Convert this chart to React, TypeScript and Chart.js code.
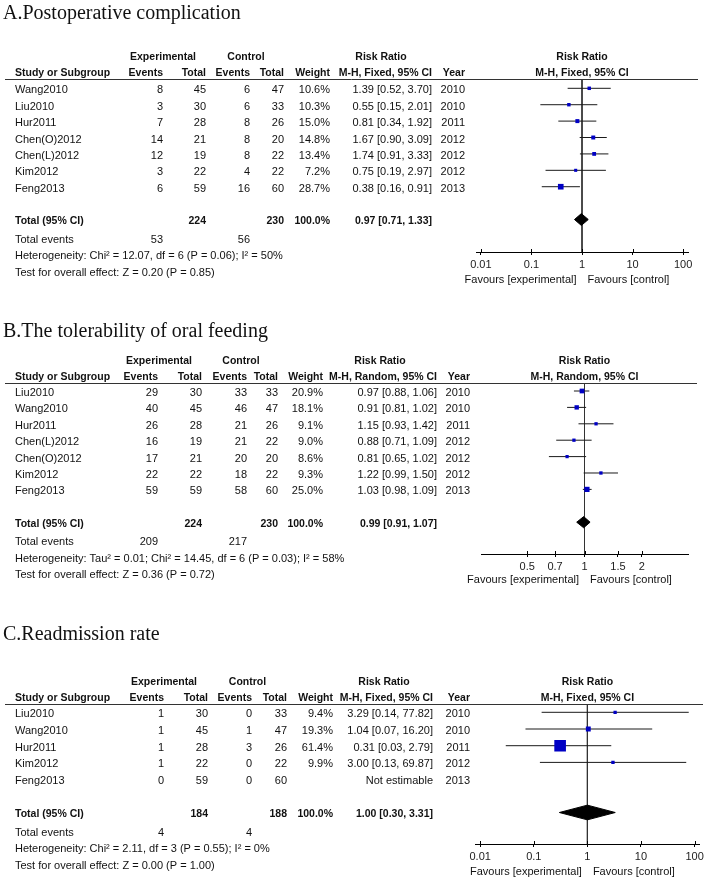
import React, { useEffect, useRef } from 'react';
import { Chart, registerables } from 'chart.js';

Chart.register(...registerables);

const SANS = '"Liberation Sans", Arial, sans-serif';
const SERIF = '"Liberation Serif", "Times New Roman", serif';
const BLUE = '#0000c4';
const INK = '#111111';

// ---------- Panel A : Postoperative complication ----------
const aTitle = 'A.Postoperative complication';
const aMethod = 'M-H, Fixed, 95% CI';
const aStudies = ['Wang2010', 'Liu2010', 'Hur2011', 'Chen(O)2012', 'Chen(L)2012', 'Kim2012', 'Feng2013'];
const aExpEvents = [8, 3, 7, 14, 12, 3, 6];
const aExpTotal = [45, 30, 28, 21, 19, 22, 59];
const aCtlEvents = [6, 6, 8, 8, 8, 4, 16];
const aCtlTotal = [47, 33, 26, 20, 22, 22, 60];
const aWeight = [10.6, 10.3, 15.0, 14.8, 13.4, 7.2, 28.7];
const aRR = [1.39, 0.55, 0.81, 1.67, 1.74, 0.75, 0.38];
const aLow = [0.52, 0.15, 0.34, 0.9, 0.91, 0.19, 0.16];
const aHigh = [3.7, 2.01, 1.92, 3.09, 3.33, 2.97, 0.91];
const aYear = [2010, 2010, 2011, 2012, 2012, 2012, 2013];
const aPooled = [0.97, 0.71, 1.33];
const aTotals = [224, 230];
const aTotalEvents = [53, 56];
const aHetero = 'Heterogeneity: Chi\u00B2 = 12.07, df = 6 (P = 0.06); I\u00B2 = 50%';
const aOverall = 'Test for overall effect: Z = 0.20 (P = 0.85)';
const aTicks = [0.01, 0.1, 1, 10, 100];
const aTickLabels = ['0.01', '0.1', '1', '10', '100'];

// ---------- Panel B : Tolerability of oral feeding ----------
const bTitle = 'B.The tolerability of oral feeding';
const bMethod = 'M-H, Random, 95% CI';
const bStudies = ['Liu2010', 'Wang2010', 'Hur2011', 'Chen(L)2012', 'Chen(O)2012', 'Kim2012', 'Feng2013'];
const bExpEvents = [29, 40, 26, 16, 17, 22, 59];
const bExpTotal = [30, 45, 28, 19, 21, 22, 59];
const bCtlEvents = [33, 46, 21, 21, 20, 18, 58];
const bCtlTotal = [33, 47, 26, 22, 20, 22, 60];
const bWeight = [20.9, 18.1, 9.1, 9.0, 8.6, 9.3, 25.0];
const bRR = [0.97, 0.91, 1.15, 0.88, 0.81, 1.22, 1.03];
const bLow = [0.88, 0.81, 0.93, 0.71, 0.65, 0.99, 0.98];
const bHigh = [1.06, 1.02, 1.42, 1.09, 1.02, 1.5, 1.09];
const bYear = [2010, 2010, 2011, 2012, 2012, 2012, 2013];
const bPooled = [0.99, 0.91, 1.07];
const bTotals = [224, 230];
const bTotalEvents = [209, 217];
const bHetero = 'Heterogeneity: Tau\u00B2 = 0.01; Chi\u00B2 = 14.45, df = 6 (P = 0.03); I\u00B2 = 58%';
const bOverall = 'Test for overall effect: Z = 0.36 (P = 0.72)';
const bTicks = [0.5, 0.7, 1, 1.5, 2];
const bTickLabels = ['0.5', '0.7', '1', '1.5', '2'];

// ---------- Panel C : Readmission rate ----------
const cTitle = 'C.Readmission rate';
const cMethod = 'M-H, Fixed, 95% CI';
const cStudies = ['Liu2010', 'Wang2010', 'Hur2011', 'Kim2012', 'Feng2013'];
const cExpEvents = [1, 1, 1, 1, 0];
const cExpTotal = [30, 45, 28, 22, 59];
const cCtlEvents = [0, 1, 3, 0, 0];
const cCtlTotal = [33, 47, 26, 22, 60];
const cWeight = [9.4, 19.3, 61.4, 9.9, null];
const cRR = [3.29, 1.04, 0.31, 3.0, null];
const cLow = [0.14, 0.07, 0.03, 0.13, null];
const cHigh = [77.82, 16.2, 2.79, 69.87, null];
const cYear = [2010, 2010, 2011, 2012, 2013];
const cPooled = [1.0, 0.3, 3.31];
const cTotals = [184, 188];
const cTotalEvents = [4, 4];
const cHetero = 'Heterogeneity: Chi\u00B2 = 2.11, df = 3 (P = 0.55); I\u00B2 = 0%';
const cOverall = 'Test for overall effect: Z = 0.00 (P = 1.00)';
const cTicks = [0.01, 0.1, 1, 10, 100];
const cTickLabels = ['0.01', '0.1', '1', '10', '100'];

type PanelData = {
  title: string; method: string; studies: string[];
  expEvents: number[]; expTotal: number[]; ctlEvents: number[]; ctlTotal: number[];
  weight: (number | null)[]; rr: (number | null)[]; low: (number | null)[]; high: (number | null)[];
  year: number[]; pooled: number[]; totals: number[]; totalEvents: number[];
  hetero: string; overall: string; ticks: number[]; tickLabels: string[];
};

type Layout = {
  top: number; height: number; left: number; right: number; chartTop: number; axisY: number;
  yMin: number; yMax: number; xMin: number; xMax: number; titleY: number; lineEnd: number;
  col: { name: number; expE: number; expT: number; ctlE: number; ctlT: number; weight: number; rr: number; year: number };
  grp: { exp: number; ctl: number; rr: number };
  favDy: number; sqB: number; sqK: number; dh: number;
};

const panelA: PanelData = {
  title: aTitle, method: aMethod, studies: aStudies, expEvents: aExpEvents, expTotal: aExpTotal,
  ctlEvents: aCtlEvents, ctlTotal: aCtlTotal, weight: aWeight, rr: aRR, low: aLow, high: aHigh,
  year: aYear, pooled: aPooled, totals: aTotals, totalEvents: aTotalEvents, hetero: aHetero,
  overall: aOverall, ticks: aTicks, tickLabels: aTickLabels,
};
const panelB: PanelData = {
  title: bTitle, method: bMethod, studies: bStudies, expEvents: bExpEvents, expTotal: bExpTotal,
  ctlEvents: bCtlEvents, ctlTotal: bCtlTotal, weight: bWeight, rr: bRR, low: bLow, high: bHigh,
  year: bYear, pooled: bPooled, totals: bTotals, totalEvents: bTotalEvents, hetero: bHetero,
  overall: bOverall, ticks: bTicks, tickLabels: bTickLabels,
};
const panelC: PanelData = {
  title: cTitle, method: cMethod, studies: cStudies, expEvents: cExpEvents, expTotal: cExpTotal,
  ctlEvents: cCtlEvents, ctlTotal: cCtlTotal, weight: cWeight, rr: cRR, low: cLow, high: cHigh,
  year: cYear, pooled: cPooled, totals: cTotals, totalEvents: cTotalEvents, hetero: cHetero,
  overall: cOverall, ticks: cTicks, tickLabels: cTickLabels,
};

const layoutA: Layout = {
  top: 0, height: 300, left: 476, right: 688, chartTop: 79, axisY: 252,
  yMin: -0.567, yMax: 9.98, xMin: 0.008, xMax: 125, titleY: 14, lineEnd: 698,
  col: { name: 15, expE: 163, expT: 206, ctlE: 250, ctlT: 284, weight: 330, rr: 432, year: 465 },
  grp: { exp: 163, ctl: 246, rr: 381 },
  favDy: 28, sqB: 2.2, sqK: 0.12, dh: 0.36,
};
const layoutB: Layout = {
  top: 300, height: 300, left: 481, right: 688, chartTop: 383, axisY: 554,
  yMin: -0.488, yMax: 9.94, xMin: 1 / 3.5, xMax: 3.5, titleY: 332, lineEnd: 697,
  col: { name: 15, expE: 158, expT: 202, ctlE: 247, ctlT: 278, weight: 323, rr: 437, year: 470 },
  grp: { exp: 159, ctl: 241, rr: 380 },
  favDy: 26, sqB: 2.2, sqK: 0.12, dh: 0.34,
};
const layoutC: Layout = {
  top: 600, height: 283, left: 475, right: 700, chartTop: 704, axisY: 844,
  yMin: -0.497, yMax: 7.886, xMin: 0.008, xMax: 125, titleY: 635, lineEnd: 703,
  col: { name: 15, expE: 164, expT: 208, ctlE: 252, ctlT: 287, weight: 333, rr: 433, year: 470 },
  grp: { exp: 164, ctl: 247.5, rr: 384 },
  favDy: 28, sqB: 1.8, sqK: 0.16, dh: 0.44,
};

const f2 = (v: number) => v.toFixed(2);

function makePlugin(p: PanelData, L: Layout) {
  return {
    id: 'forestTable',
    afterDraw(chart: any) {
      const { ctx, chartArea } = chart;
      const xs = chart.scales.x;
      const ys = chart.scales.y;
      const off = L.top;
      const x1 = xs.getPixelForValue(1);
      const text = (s: string, x: number, y: number, align: CanvasTextAlign, bold = false, font?: string) => {
        ctx.font = font || (bold ? `bold 10.5px ${SANS}` : `11px ${SANS}`);
        ctx.textAlign = align;
        ctx.fillText(s, x, y);
      };
      ctx.save();
      ctx.fillStyle = INK;
      ctx.textBaseline = 'middle';
      // title
      text(p.title, 3, L.titleY - off, 'left', false, `20px ${SERIF}`);
      // header rule
      const top = Math.round(chartArea.top) + 0.5;
      ctx.strokeStyle = '#333';
      ctx.lineWidth = 1;
      ctx.beginPath();
      ctx.moveTo(5, top);
      ctx.lineTo(L.lineEnd, top);
      ctx.stroke();
      // headers
      const h1 = chartArea.top - 21.5;
      const h2 = chartArea.top - 5.5;
      const c = L.col;
      text('Experimental', L.grp.exp, h1, 'center', true);
      text('Control', L.grp.ctl, h1, 'center', true);
      text('Risk Ratio', L.grp.rr, h1, 'center', true);
      text('Risk Ratio', x1, h1, 'center', true);
      text('Study or Subgroup', c.name, h2, 'left', true);
      text('Events', c.expE, h2, 'right', true);
      text('Total', c.expT, h2, 'right', true);
      text('Events', c.ctlE, h2, 'right', true);
      text('Total', c.ctlT, h2, 'right', true);
      text('Weight', c.weight, h2, 'right', true);
      text(p.method, c.rr, h2, 'right', true);
      text('Year', c.year, h2, 'right', true);
      text(p.method, x1, h2, 'center', true);
      // study rows
      p.studies.forEach((s, i) => {
        const y = ys.getPixelForValue(i) + 2;
        text(s, c.name, y, 'left');
        text(String(p.expEvents[i]), c.expE, y, 'right');
        text(String(p.expTotal[i]), c.expT, y, 'right');
        text(String(p.ctlEvents[i]), c.ctlE, y, 'right');
        text(String(p.ctlTotal[i]), c.ctlT, y, 'right');
        const w = p.weight[i];
        if (w != null) text(w.toFixed(1) + '%', c.weight, y, 'right');
        const r = p.rr[i];
        const lo = p.low[i];
        const hi = p.high[i];
        if (r != null && lo != null && hi != null) text(`${f2(r)} [${f2(lo)}, ${f2(hi)}]`, c.rr, y, 'right');
        else text('Not estimable', c.rr, y, 'right');
        text(String(p.year[i]), c.year, y, 'right');
      });
      // total row
      const ty = ys.getPixelForValue(p.studies.length + 1) + 2;
      text('Total (95% CI)', c.name, ty, 'left', true);
      text(String(p.totals[0]), c.expT, ty, 'right', true);
      text(String(p.totals[1]), c.ctlT, ty, 'right', true);
      text('100.0%', c.weight, ty, 'right', true);
      text(`${f2(p.pooled[0])} [${f2(p.pooled[1])}, ${f2(p.pooled[2])}]`, c.rr, ty, 'right', true);
      text('Total events', c.name, ty + 18, 'left');
      text(String(p.totalEvents[0]), c.expE, ty + 18, 'right');
      text(String(p.totalEvents[1]), c.ctlE, ty + 18, 'right');
      text(p.hetero, c.name, ty + 34.5, 'left');
      text(p.overall, c.name, ty + 51, 'left');
      // upper half of axis tick marks
      const ay = chartArea.bottom;
      ctx.strokeStyle = '#000';
      ctx.beginPath();
      xs.ticks.forEach((t: any) => {
        const px = Math.round(xs.getPixelForValue(t.value)) + 0.5;
        ctx.moveTo(px, ay - 3);
        ctx.lineTo(px, ay);
      });
      ctx.stroke();
      // favours labels
      text('Favours [experimental]', x1 - 5.5, ay + L.favDy, 'right');
      text('Favours [control]', x1 + 5.5, ay + L.favDy, 'left');
      ctx.restore();
    },
  };
}

function makeConfig(p: PanelData, L: Layout): any {
  const n = p.studies.length;
  const totalRow = n + 1;
  const idx = p.rr.map((v, i) => (v == null ? -1 : i)).filter((i) => i >= 0);
  const squares = idx.map((i) => ({ x: p.rr[i] as number, y: i }));
  const radii = idx.map((i) => (L.sqB + L.sqK * (p.weight[i] as number)) / Math.SQRT2);
  const [est, lo, hi] = p.pooled;
  const datasets: any[] = [
    {
      label: 'studies', data: squares, pointStyle: 'rect', pointRadius: radii,
      backgroundColor: BLUE, borderColor: BLUE, borderWidth: 0, showLine: false,
    },
    {
      label: 'pooled',
      data: [
        { x: lo, y: totalRow }, { x: est, y: totalRow - L.dh }, { x: hi, y: totalRow },
        { x: est, y: totalRow + L.dh }, { x: lo, y: totalRow },
      ],
      showLine: true, fill: 'shape', backgroundColor: '#000', borderColor: '#000', borderWidth: 1, pointRadius: 0,
    },
    ...idx.map((i) => ({
      label: 'ci' + i,
      data: [{ x: p.low[i] as number, y: i }, { x: p.high[i] as number, y: i }],
      showLine: true, borderColor: '#1a1a1a', borderWidth: 1, pointRadius: 0, fill: false,
    })),
    {
      label: 'no effect', data: [{ x: 1, y: L.yMin }, { x: 1, y: L.yMax }],
      showLine: true, borderColor: '#333', borderWidth: 1, pointRadius: 0, fill: false,
    },
  ];
  return {
    type: 'scatter',
    data: { datasets },
    options: {
      responsive: false,
      animation: false,
      events: [],
      devicePixelRatio: 1,
      layout: { padding: { left: L.left, right: 708 - L.right, top: L.chartTop - L.top, bottom: L.height - 20 - (L.axisY - L.top) } },
      plugins: { legend: { display: false }, tooltip: { enabled: false }, title: { display: false } },
      scales: {
        x: {
          type: 'logarithmic', min: L.xMin, max: L.xMax, position: 'bottom',
          afterBuildTicks: (s: any) => { s.ticks = p.ticks.map((v) => ({ value: v })); },
          afterFit: (s: any) => { s.height = 20; },
          border: { display: true, color: '#000', width: 1 },
          grid: { display: true, drawOnChartArea: false, drawTicks: true, tickLength: 3, color: '#000' },
          ticks: {
            autoSkip: false, maxRotation: 0, minRotation: 0, padding: 3, color: '#222',
            font: { family: SANS, size: 11 },
            callback: (_v: any, i: number) => p.tickLabels[i],
          },
        },
        y: { type: 'linear', min: L.yMin, max: L.yMax, reverse: true, display: false },
      },
    },
    plugins: [makePlugin(p, L)],
  };
}

function Panel({ data, layout }: { data: PanelData; layout: Layout }) {
  const ref = useRef<HTMLCanvasElement | null>(null);
  useEffect(() => {
    if (!ref.current) return;
    const chart = new Chart(ref.current, makeConfig(data, layout));
    return () => chart.destroy();
  }, [data, layout]);
  return (
    <canvas
      ref={ref}
      width={708}
      height={layout.height}
      style={{ position: 'absolute', left: 0, top: layout.top, width: 708, height: layout.height }}
    />
  );
}

export default function App() {
  return (
    <div style={{ position: 'absolute', left: 0, top: 0, width: 708, height: 883, background: '#fff', overflow: 'hidden' }}>
      <Panel data={panelA} layout={layoutA} />
      <Panel data={panelB} layout={layoutB} />
      <Panel data={panelC} layout={layoutC} />
    </div>
  );
}
